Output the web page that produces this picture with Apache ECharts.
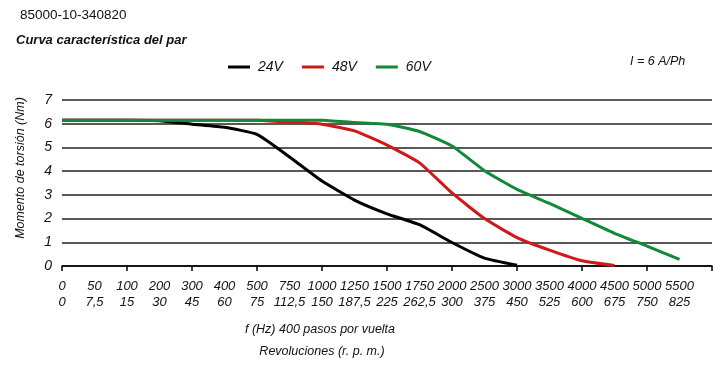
<!DOCTYPE html>
<html><head><meta charset="utf-8">
<script src="https://cdn.jsdelivr.net/npm/echarts@6/dist/echarts.min.js"></script>
<style>html,body{margin:0;padding:0;background:#fff}#c{width:727px;height:374px}</style>
</head><body><div id="c"></div>
<script>
var freqLabels = ['0','50','100','200','300','400','500','750','1000','1250','1500','1750','2000','2500','3000','3500','4000','4500','5000','5500',''];
var rpmLabels = ['0','7,5','15','30','45','60','75','112,5','150','187,5','225','262,5','300','375','450','525','600','675','750','825',''];
var v24 = [6.15,6.15,6.15,6.13,5.98,5.85,5.55,4.6,3.58,2.78,2.2,1.74,0.99,0.33,0.03];
var v48 = [6.15,6.15,6.15,6.15,6.15,6.15,6.15,6.07,5.98,5.7,5.1,4.35,3.08,2.0,1.2,0.67,0.22,0.02];
var v60 = [6.15,6.15,6.15,6.15,6.15,6.15,6.15,6.15,6.15,6.05,5.98,5.67,5.06,4.02,3.23,2.64,2.01,1.38,0.84,0.28];
var yTicks = [0,1,2,3,4,5,6,7];

var FONT = "'Liberation Sans Narrow','Liberation Sans',Arial,sans-serif";
var chart = echarts.init(document.getElementById('c'));
function ser(name, data, color){
  return {name:name, type:'line', data:data, symbol:'none', smooth:0.15,
    lineStyle:{color:color, width:3}, itemStyle:{color:color}, z:3};
}
chart.setOption({
  animation:false,
  textStyle:{fontFamily:FONT},
  graphic:[
    {type:'text', x:20, y:8, style:{text:'85000-10-340820', font:'13.5px '+FONT, fill:'#111'}},
    {type:'text', x:16, y:34, style:{text:'Curva característica del par', font:'italic bold 13px '+FONT, fill:'#111'}},
    {type:'text', x:630, y:55, style:{text:'I = 6 A/Ph', font:'italic 12.5px '+FONT, fill:'#111'}},
    {type:'text', x:320, y:323, style:{text:'f (Hz) 400 pasos por vuelta', font:'italic 12.5px '+FONT, fill:'#111', align:'center'}},
    {type:'text', x:322, y:345, style:{text:'Revoluciones (r. p. m.)', font:'italic 12.5px '+FONT, fill:'#111', align:'center'}},
    {type:'text', x:21, y:168, rotation:Math.PI/2, style:{text:'Momento de torsión (Nm)', font:'italic 12.5px '+FONT, fill:'#111', align:'center', verticalAlign:'middle'}}
  ],
  legend:{top:55, left:223, itemWidth:22, itemHeight:3, itemGap:19, icon:'rect',
    textStyle:{fontFamily:FONT, fontStyle:'italic', fontSize:14, color:'#111', padding:[0,0,0,3]},
    data:['24V','48V','60V']},
  grid:{left:62, right:15, top:100, bottom:108},
  xAxis:{type:'category', boundaryGap:false, data:freqLabels,
    axisLine:{lineStyle:{color:'#000', width:1.5}},
    axisTick:{interval:1, length:5, lineStyle:{color:'#000', width:1.5}},
    axisLabel:{interval:0, margin:12, lineHeight:16,
      formatter:function(v, i){ return v === '' ? '' : v + '\n' + rpmLabels[i]; },
      fontFamily:FONT, fontStyle:'italic', fontSize:13, color:'#111'},
    splitLine:{show:false}},
  yAxis:{type:'value', min:yTicks[0], max:yTicks[yTicks.length-1], interval:1,
    axisLine:{show:false}, axisTick:{show:false},
    axisLabel:{margin:10, fontFamily:FONT, fontStyle:'italic', fontSize:14, color:'#111'},
    splitLine:{lineStyle:{color:'#222', width:1.5}}},
  series:[ser('24V', v24, '#000000'), ser('48V', v48, '#d01818'), ser('60V', v60, '#108a38')]
});
</script></body></html>
